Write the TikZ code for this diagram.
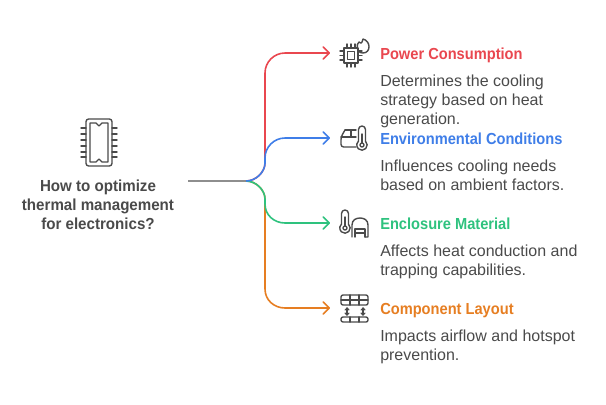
\documentclass[tikz,border=0pt]{standalone}
\usepackage{fontspec}
\setmainfont{Liberation Sans}
\newfontfamily\headfamily[FakeStretch=0.915]{Liberation Sans}
\newfontfamily\rootfamily[FakeStretch=0.945]{Liberation Sans}
\usetikzlibrary{arrows.meta}
\definecolor{redline}{HTML}{E9474F}
\definecolor{blueline}{HTML}{3F7EE8}
\definecolor{greenline}{HTML}{2EC27E}
\definecolor{orangeline}{HTML}{E67E22}
\definecolor{greyline}{HTML}{8E8E8E}
\definecolor{icongrey}{HTML}{4A4A4A}
\definecolor{textgrey}{HTML}{4A4A4A}
\tikzset{
	branch/.style={line width=1.2pt},
	tip/.style={-{Straight Barb[length=4.5pt,width=9pt,round]}},
	head/.style={anchor=base west, inner sep=0pt, font=\headfamily\fontsize{12}{14.25}\selectfont\bfseries},
	descr/.style={anchor=north west, inner sep=0pt, align=left, text=textgrey, font=\fontsize{12}{14.25}\selectfont},
	roottext/.style={inner sep=0pt, align=center, text=textgrey, font=\rootfamily\fontsize{12}{14.25}\selectfont\bfseries},
	icon/.style={draw=icongrey, line width=1.05pt, line cap=round, line join=round}
}
\begin{document}
\begin{tikzpicture}[x=0.75pt,y=-0.75pt]
	\useasboundingbox (0,0) rectangle (606,404);

	% ends of the connectors
	\coordinate (start) at (188,181);
	\coordinate (fork) at (246,181);
	\coordinate (powerend) at (330,53);
	\coordinate (envend) at (330,138);
	\coordinate (matend) at (330,223);
	\coordinate (layoutend) at (330,308);

	% texts
	\node[roottext] (question) at (98,205) {How to optimize\\thermal management\\for electronics?};
	\node[head, text=redline] (powerhead) at (380,59) {Power Consumption};
	\node[descr] (powertext) at (380,75) {Determines the cooling\\strategy based on heat\\generation.};
	\node[head, text=blueline] (envhead) at (380,144) {Environmental Conditions};
	\node[descr] (envtext) at (380,160) {Influences cooling needs\\based on ambient factors.};
	\node[head, text=greenline] (mathead) at (380,229) {Enclosure Material};
	\node[descr] (mattext) at (380,245) {Affects heat conduction and\\trapping capabilities.};
	\node[head, text=orangeline] (layouthead) at (380,314) {Component Layout};
	\node[descr] (layouttext) at (380,330) {Impacts airflow and hotspot\\prevention.};

	% connectors
	\draw[greyline, branch] (start) -- (fork);
	\draw[branch, orangeline, tip] (fork) .. controls (256,181) and (265,190) .. (265,199) -- (265,289) .. controls (265,300) and (274,308) .. (285,308) -- (layoutend);
	\draw[branch, redline, tip] (fork) .. controls (256,181) and (265,172) .. (265,163) -- (265,73) .. controls (265,62) and (274,53) .. (285,53) -- (powerend);
	\draw[branch, greenline, tip] (fork) .. controls (256,181) and (265,190) .. (265,199) -- (265,204) .. controls (265,215) and (274,223) .. (285,223) -- (matend);
	\draw[branch, blueline, tip] (fork) .. controls (256,181) and (265,172) .. (265,163) -- (265,158) .. controls (265,147) and (274,138) .. (285,138) -- (envend);

	% big chip
	\draw[icon, rounded corners=2pt] (86,119) rectangle (112,166);
	\draw[icon] (90,123) -- (96,123) -- (99,126) -- (102,123) -- (108,123) -- (108,162) -- (102,162) -- (99,159) -- (96,162) -- (90,162) -- cycle;
	\foreach \y in {128,134,140,146,152,157}
	{
		\draw[icon] (81,\y) -- (86,\y);
		\draw[icon] (112,\y) -- (117,\y);
	}

	% power icon
	\draw[icon] (344,48) rectangle (358,63);
	\draw[icon] (347.5,51.5) rectangle (354.5,59.5);
	\foreach \y in {51,55.5,60}
	{
		\draw[icon] (340,\y) -- (344,\y);
		\draw[icon] (358,\y) -- (362,\y);
	}
	\foreach \x in {347,351,355}
	{
		\draw[icon] (\x,44) -- (\x,48);
		\draw[icon] (\x,63) -- (\x,67);
	}
	\draw[icon] (363,39) .. controls (371,41) and (371,53) .. (363,53) .. controls (356,53) and (356,44) .. (359,42) .. controls (360,44) and (362,44) .. (363,39);

	% environment icon
	\draw[icon] (345,130) -- (356,130);
	\draw[icon, rounded corners=2pt] (356,147) -- (341,147) -- (341,137) -- (345,130);
	\draw[icon] (341,137) -- (356,137);
	\draw[icon] (351,130) -- (351,137);
	\draw[icon] (358.5,141.2) -- (358.5,129.5) arc (180:360:3.5) -- (365.5,141.2) arc (-47:227:5.2);
	\draw[icon] (362,145) circle (2);
	\draw[icon] (362,134) -- (362,143);

	% enclosure icon
	\draw[icon] (341.5,224.2) -- (341.5,213.5) arc (180:360:3.5) -- (348.5,224.2) arc (-47:227:5.2);
	\draw[icon] (345,228) circle (2);
	\draw[icon] (345,217) -- (345,226);
	\draw[icon] (352,237) -- (352,225) .. controls (352,220) and (356,218) .. (360,218) .. controls (364,218) and (368,220) .. (368,225) -- (368,237) -- (365,237);
	\draw[icon] (355,237) -- (355,229) -- (365,229) -- (365,237);
	\draw[icon] (355,233) -- (365,233);

	% layout icon
	\draw[icon, rounded corners=1.5pt] (341,295) rectangle (368,305);
	\draw[icon] (341,300) -- (368,300);
	\draw[icon] (350,295) -- (350,305);
	\draw[icon] (359,295) -- (359,305);
	\draw[icon, rounded corners=1.5pt] (341,317) rectangle (368,322);
	\draw[icon] (350,317) -- (350,322);
	\draw[icon] (359,317) -- (359,322);
	\foreach \x in {347,363}
	{
		\draw[icon, line width=0.8pt] (\x,308) -- (\x,315);
		\draw[icon, line width=0.8pt] (\x-2,310) -- (\x,308) -- (\x+2,310);
		\draw[icon, line width=0.8pt] (\x-2,313) -- (\x,315) -- (\x+2,313);
	}
\end{tikzpicture}
\end{document}
